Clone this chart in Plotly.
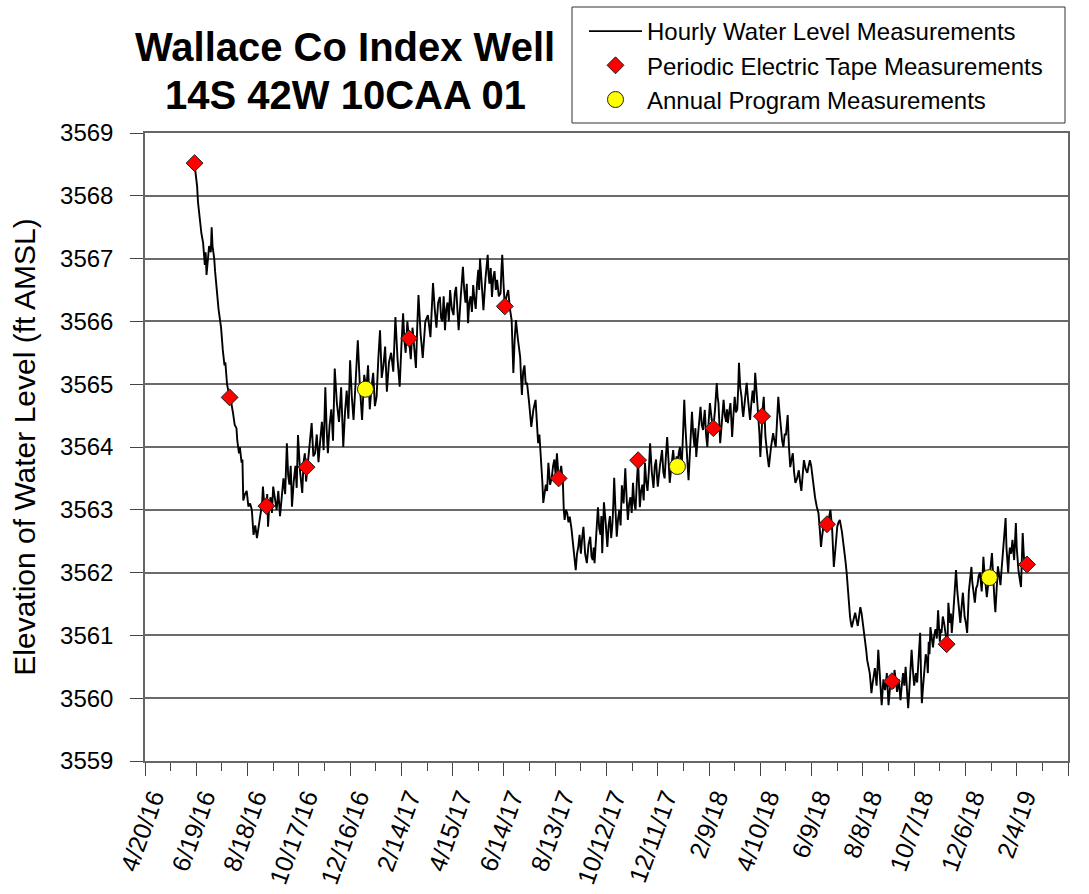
import pandas as pd
import plotly.graph_objects as go

# Hourly transducer record as (days after 4/20/16, level)
START = pd.Timestamp("2016-04-20")
hourly_day = [
    # drawdown, summer 2016
    58, 60, 61, 62, 63, 64, 66, 68, 70, 71, 72, 74, 75, 77, 78, 79, 81, 82, 84, 86,
    88, 89, 91, 93, 94, 96, 99, 101, 103, 105, 107, 108, 110, 111, 113, 114, 115, 117, 119, 121,
    123, 125, 127, 128, 129, 131, 132, 134, 135, 137, 138, 140,
    # recovery 2016-17
    142, 143, 144, 145.5, 147, 148.5, 150, 152, 154, 156, 158, 160, 162, 164, 166, 167.5, 169, 170.5,
    172, 174, 176, 177.5, 179, 181.5, 184, 185.5, 187, 188.5, 190, 192.5, 195, 197, 199, 201, 203, 205,
    207, 209, 211, 212.5, 214, 216, 218, 220, 222, 224.5, 227, 229.5, 232, 234, 236, 238, 240, 242,
    244, 246.5, 249, 251.5, 254, 256.5, 259, 261, 263, 265, 267, 269, 271, 273, 275, 277, 279, 281,
    283, 285.5, 288, 290.5, 293, 295.5, 298, 300, 302, 303.5, 305, 307, 309, 311, 313, 315, 317, 318.5,
    320, 322.5, 325, 328, 331, 334, 337, 339, 341, 343, 345, 346.5, 348, 349.5, 351, 352.5, 354, 355.5,
    357, 359, 361, 362.5, 364, 365.5, 367, 369.5, 372, 373.5, 375, 376.5, 378, 379.5, 381, 382.5, 384, 385.5,
    387, 388.5, 390, 391, 392, 394, 396, 398.5, 401, 402, 403, 404.5, 406, 407.5, 409, 410.5, 412, 414,
    416, 417, 418, 419.5,
    # drawdown, summer 2017
    421, 423, 425, 427, 429, 430, 431, 432.5, 434, 436.5, 439, 440, 441, 442.5, 444, 445.5, 447, 449.5,
    452, 454.5, 457, 458.5, 460, 461.5, 463, 464, 465, 466, 467.5, 469, 470.5, 472, 474, 476, 477.5, 479,
    480.5, 482, 483.5, 485, 487, 489, 490, 491, 492.5, 494, 495.5, 497, 499, 501, 502.5,
    # recovery 2017-18
    504, 505.5, 507, 508.5, 510, 511.5, 513, 515, 517, 519, 521, 522.5, 524, 525, 526, 528, 530, 531.5,
    533, 534, 535, 536, 537, 539, 541, 542.5, 544, 545.5, 547, 548, 549, 550.5, 552, 553.5, 555, 556.5,
    558, 560, 562, 563.5, 565, 566.5, 568, 569.5, 571, 572.5, 574, 575.5, 577, 578, 579, 580.5, 582, 583.5,
    585, 586.5, 588, 589.5, 591, 593, 595, 596.5, 598, 599, 600, 602.5, 605, 606.5, 608, 609.5, 611, 612.5,
    614, 616, 618, 619.5, 621, 622, 623, 624.5, 626, 627, 628, 629.5, 631, 632, 633, 634.5, 636, 638,
    640, 641.5, 643, 644, 645, 646.5, 648, 649, 650, 651.5, 653, 654, 655, 656.5, 658, 659.5, 661, 663,
    665, 667, 669, 670, 671, 672, 673, 675, 677, 678.5, 680, 681, 682, 683.5, 685, 686, 687, 688.5,
    690, 691.5, 693, 694, 695, 696.5, 698, 699, 700, 702, 704, 706, 708, 709.5, 711, 712.5, 714, 716,
    718, 719, 720, 721,
    # drawdown, summer 2018
    722, 723, 724, 725, 726, 728, 730, 732.5, 735, 736.5, 738, 739.5, 741, 742.5, 744, 745.5, 747, 748.5,
    750, 751, 752, 753.5, 755, 756.5, 758, 759.5, 761, 763, 765, 766.5, 768, 769.5, 771, 773, 775, 776.5,
    778, 779.5, 781, 782.5, 784, 786, 788, 789.5, 791, 792, 793, 794.5, 796, 798, 800, 802, 804, 806,
    808, 810, 811.5, 813, 815.5, 818, 819.5, 821, 822, 823, 824, 825, 826, 827, 829, 831, 832.5, 834,
    835.5, 837, 838.5, 840, 841.5, 843, 844, 845, 846.5, 848, 849, 850, 851, 852, 853, 854, 855, 856,
    857, 858, 859, 860, 861, 862, 863, 864, 865, 866, 867, 868, 869,
    # recovery 2018-19
    870, 871, 872, 873, 874, 875.5, 877, 878.5, 880, 882, 884, 885.5, 887, 888.5, 890, 891.5, 893, 894,
    895, 896, 897, 898.5, 900, 901, 902, 903.5, 905, 906, 907, 908, 909, 910.5, 912, 913.5, 915, 916,
    917, 918, 919, 920.5, 922, 923.5, 925, 926.5, 928, 929, 930, 931, 932, 933.5, 935, 937, 939, 940,
    941, 942, 943, 944, 945.5, 947, 948, 949, 950.5, 952, 953, 954, 955.5, 957, 958, 959, 960.5, 962,
    963, 964, 965.5, 967, 968, 969, 970, 971, 972.5, 974, 975.5, 977, 978, 979, 980, 981, 982, 983,
    984, 985, 986.5, 988, 989.5, 991, 992, 993, 994, 995, 996, 997, 998, 999, 1000, 1001, 1002, 1003,
    1004, 1005, 1006, 1007, 1008, 1009, 1010, 1011, 1012, 1013.5, 1015, 1016, 1017, 1018, 1019, 1020, 1021, 1022,
    1023.5, 1025, 1026, 1027, 1028, 1029,
]
hourly_level = [
    # drawdown, summer 2016
    3568.50, 3568.30, 3568.15, 3567.90, 3567.75, 3567.60, 3567.40, 3567.25, 3566.90, 3567.10,
    3566.74, 3567.05, 3567.20, 3567.10, 3567.50, 3567.20, 3567.00, 3566.80, 3566.45, 3566.20,
    3566.00, 3565.90, 3565.55, 3565.30, 3565.35, 3565.00, 3564.79, 3564.70, 3564.54, 3564.35,
    3564.30, 3564.10, 3563.90, 3564.00, 3563.75, 3563.80, 3563.15, 3563.25, 3563.30, 3563.05,
    3563.10, 3563.00, 3562.60, 3562.70, 3562.75, 3562.55, 3562.65, 3562.80, 3562.90, 3563.10,
    3563.37, 3563.00,
    # recovery 2016-17
    3563.06, 3563.25, 3562.73, 3563.10, 3563.20, 3562.95, 3563.37, 3563.15, 3563.00, 3563.30,
    3562.90, 3563.20, 3563.50, 3563.25, 3564.06, 3563.55, 3563.40, 3563.70, 3563.05, 3563.45,
    3563.70, 3563.35, 3564.19, 3563.60, 3563.27, 3563.75, 3563.90, 3563.45, 3563.68, 3564.05,
    3564.38, 3563.85, 3563.90, 3564.20, 3563.76, 3564.10, 3564.40, 3563.95, 3564.95, 3564.30,
    3563.90, 3564.35, 3564.60, 3564.10, 3565.25, 3564.70, 3564.40, 3564.95, 3564.00, 3564.55,
    3564.90, 3564.45, 3565.38, 3564.80, 3564.43, 3565.05, 3565.70, 3564.95, 3564.43, 3565.15,
    3564.92, 3565.30, 3564.60, 3564.95, 3565.18, 3564.65, 3564.80, 3565.40, 3565.86, 3565.10,
    3565.30, 3565.60, 3564.88, 3565.35, 3565.50, 3565.20, 3566.07, 3565.40, 3564.96, 3565.60,
    3566.13, 3565.70, 3565.50, 3566.00, 3565.73, 3565.40, 3565.90, 3565.60, 3565.26, 3565.90,
    3566.42, 3565.80, 3565.42, 3566.00, 3566.10, 3565.75, 3566.61, 3566.20, 3565.90, 3566.30,
    3566.39, 3566.05, 3566.00, 3566.40, 3565.86, 3566.20, 3566.30, 3566.00, 3566.50, 3566.20,
    3566.10, 3566.45, 3566.55, 3566.20, 3565.86, 3566.40, 3566.87, 3566.50, 3566.30, 3566.60,
    3565.97, 3566.30, 3566.40, 3566.15, 3566.58, 3566.35, 3566.20, 3566.60, 3566.82, 3566.50,
    3567.00, 3566.60, 3566.18, 3566.70, 3567.06, 3566.75, 3566.60, 3566.85, 3566.39, 3566.70,
    3566.80, 3566.50, 3566.66, 3566.40, 3566.45, 3566.80, 3567.06, 3566.60,
    # drawdown, summer 2017
    3566.24, 3566.40, 3566.50, 3566.20, 3566.02, 3565.60, 3565.18, 3565.70, 3566.02, 3565.70,
    3565.43, 3565.10, 3564.83, 3565.20, 3565.30, 3565.00, 3565.02, 3564.70, 3564.32, 3564.60,
    3564.75, 3564.40, 3564.06, 3564.20, 3563.90, 3563.60, 3563.43, 3563.11, 3563.30, 3563.40,
    3563.30, 3563.75, 3563.40, 3563.52, 3563.70, 3563.80, 3563.55, 3563.90, 3563.60, 3563.50,
    3563.70, 3563.43, 3563.00, 3562.84, 3563.00, 3562.95, 3562.80, 3562.89, 3562.70, 3562.47,
    3562.30,
    # recovery 2017-18
    3562.04, 3562.30, 3562.41, 3562.60, 3562.30, 3562.55, 3562.73, 3562.30, 3562.15, 3562.45,
    3562.57, 3562.25, 3562.20, 3562.40, 3562.15, 3562.60, 3563.04, 3562.70, 3562.60, 3562.90,
    3562.31, 3562.70, 3563.12, 3562.80, 3562.41, 3562.75, 3562.90, 3562.55, 3562.79, 3563.10,
    3563.51, 3563.00, 3562.57, 3562.85, 3563.00, 3562.75, 3563.39, 3563.10, 3563.66, 3563.20,
    3562.84, 3563.10, 3563.20, 3562.95, 3563.43, 3563.10, 3563.00, 3563.45, 3563.78, 3563.40,
    3563.04, 3563.30, 3563.40, 3563.15, 3563.75, 3563.45, 3563.30, 3563.60, 3564.06, 3563.60,
    3563.35, 3563.70, 3563.80, 3563.55, 3563.37, 3563.70, 3563.95, 3563.60, 3563.50, 3563.85,
    3564.16, 3563.80, 3563.43, 3563.70, 3563.95, 3563.70, 3563.60, 3563.85, 3563.69, 3563.90,
    3564.00, 3563.75, 3563.70, 3564.20, 3564.75, 3564.40, 3564.10, 3563.80, 3563.47, 3564.00,
    3564.56, 3564.20, 3564.00, 3564.30, 3563.84, 3564.10, 3564.30, 3564.50, 3564.64, 3564.35,
    3564.27, 3564.45, 3564.59, 3564.20, 3564.00, 3564.40, 3564.70, 3564.45, 3564.30, 3564.60,
    3565.02, 3564.80, 3564.70, 3564.40, 3564.06, 3564.40, 3564.75, 3564.50, 3564.40, 3564.60,
    3564.38, 3564.55, 3564.70, 3564.45, 3564.16, 3564.50, 3564.80, 3564.55, 3564.60, 3564.90,
    3565.34, 3564.95, 3564.80, 3564.60, 3564.48, 3564.75, 3565.02, 3564.70, 3564.43, 3564.70,
    3564.90, 3564.70, 3565.18, 3564.80, 3564.43, 3564.20, 3563.84, 3564.20,
    # drawdown, summer 2018
    3564.49, 3564.65, 3564.80, 3564.50, 3564.16, 3563.90, 3563.68, 3564.00, 3564.22, 3564.10,
    3564.00, 3564.40, 3564.80, 3564.55, 3564.30, 3564.10, 3564.00, 3564.20, 3564.20, 3564.35,
    3564.51, 3564.00, 3563.68, 3563.80, 3563.90, 3563.60, 3563.43, 3563.50, 3563.63, 3563.45,
    3563.30, 3563.55, 3563.79, 3563.65, 3563.59, 3563.70, 3563.79, 3563.70, 3563.50, 3563.35,
    3563.20, 3563.05, 3562.95, 3562.70, 3562.41, 3562.55, 3562.70, 3562.80, 3562.84, 3562.77,
    3562.85, 3563.00, 3562.70, 3562.09, 3562.40, 3562.73, 3562.80, 3562.84, 3562.65, 3562.41,
    3562.20, 3562.00, 3561.80, 3561.56, 3561.40, 3561.29, 3561.20, 3561.13, 3561.25, 3561.36,
    3561.25, 3561.15, 3561.30, 3561.45, 3561.35, 3561.20, 3561.05, 3560.90, 3560.75, 3560.61,
    3560.50, 3560.40, 3560.25, 3560.08, 3560.20, 3560.30, 3560.40, 3560.48, 3560.35, 3560.20,
    3560.45, 3560.77, 3560.55, 3560.30, 3560.10, 3559.89, 3560.10, 3560.30, 3560.20, 3560.13,
    3560.25, 3560.40, 3560.15,
    # recovery 2018-19
    3559.89, 3560.05, 3560.20, 3560.35, 3560.27, 3560.15, 3560.45, 3560.25, 3560.10, 3560.30,
    3559.97, 3560.20, 3560.40, 3560.20, 3560.50, 3560.15, 3559.84, 3560.05, 3560.30, 3560.55,
    3560.77, 3560.45, 3560.20, 3560.30, 3560.40, 3560.25, 3560.70, 3560.85, 3561.04, 3560.40,
    3559.92, 3560.20, 3560.40, 3560.70, 3560.61, 3560.40, 3560.90, 3560.70, 3561.13, 3560.95,
    3560.81, 3561.00, 3561.10, 3560.95, 3561.40, 3561.15, 3560.90, 3561.10, 3561.04, 3561.30,
    3561.20, 3561.00, 3560.86, 3561.52, 3561.30, 3561.20, 3561.35, 3561.04, 3561.30, 3561.60,
    3561.80, 3562.04, 3561.70, 3561.50, 3561.35, 3561.20, 3561.45, 3561.68, 3561.50, 3561.30,
    3561.20, 3561.04, 3561.35, 3561.70, 3561.90, 3562.09, 3561.85, 3561.70, 3561.60, 3561.52,
    3561.75, 3561.80, 3561.95, 3562.00, 3561.85, 3561.70, 3561.95, 3562.25, 3562.05, 3561.90,
    3561.75, 3561.61, 3561.80, 3561.92, 3562.10, 3562.31, 3562.00, 3561.80, 3561.55, 3561.37,
    3561.70, 3561.90, 3562.10, 3562.00, 3561.90, 3561.80, 3562.00, 3562.20, 3562.40, 3562.50,
    3562.70, 3562.87, 3562.40, 3562.20, 3562.00, 3562.25, 3562.40, 3562.30, 3562.52, 3562.35,
    3562.20, 3562.50, 3562.79, 3562.40, 3562.20, 3562.04, 3561.90, 3561.77, 3562.20, 3562.63,
    3562.35, 3562.13,
]

tape_dates = [
    "2016-06-17", "2016-07-28", "2016-09-09", "2016-10-26", "2017-02-23", "2017-06-15",
    "2017-08-17", "2017-11-18", "2018-02-14", "2018-04-12", "2018-06-27", "2018-09-11",
    "2018-11-14", "2019-02-16",
]
tape_level = [
    3568.52, 3564.79, 3563.06, 3563.68, 3565.73, 3566.24, 3563.50,
    3563.79, 3564.30, 3564.49, 3562.77, 3560.27, 3560.86, 3562.13,
]

annual_dates = ["2017-01-03", "2018-01-03", "2019-01-03"]
annual_level = [3564.92, 3563.69, 3561.92]

tick_labels = [
    "4/20/16", "6/19/16", "8/18/16", "10/17/16", "12/16/16", "2/14/17", "4/15/17",
    "6/14/17", "8/13/17", "10/12/17", "12/11/17", "2/9/18", "4/10/18", "6/9/18",
    "8/8/18", "10/7/18", "12/6/18", "2/4/19", "4/5/19",
]

title_lines = ["Wallace Co Index Well", "14S 42W 10CAA 01"]

FONT = "Liberation Sans, Arial, sans-serif"

hourly_time = START + pd.to_timedelta(hourly_day, unit="D")
tick_vals = pd.date_range(START, periods=len(tick_labels), freq="60D")
minor_vals = pd.date_range(START, tick_vals[-1], freq="30D")

fig = go.Figure()
fig.add_scatter(
    x=hourly_time,
    y=hourly_level,
    mode="lines",
    line=dict(color="black", width=1.9),
    name="Hourly Water Level Measurements",
)
fig.add_scatter(
    x=pd.to_datetime(tape_dates),
    y=tape_level,
    mode="markers",
    marker=dict(symbol="diamond", size=13, color="#ff0000", line=dict(color="#202020", width=1)),
    name="Periodic Electric Tape Measurements",
)
fig.add_scatter(
    x=pd.to_datetime(annual_dates),
    y=annual_level,
    mode="markers",
    marker=dict(symbol="circle", size=16, color="#ffff00", line=dict(color="#202020", width=1)),
    name="Annual Program Measurements",
)

W, H = 1089, 894
L, R, T, B = 145, 21, 133, 133
PW, PH = W - L - R, H - T - B


def px_x(x):
    return (x - L) / PW


def px_y(y):
    return (H - B - y) / PH


fig.update_layout(
    width=W,
    height=H,
    margin=dict(l=L, r=R, t=T, b=B, autoexpand=False),
    paper_bgcolor="white",
    plot_bgcolor="white",
    font=dict(family=FONT, color="black"),
    annotations=[
        dict(
            text=f"<b>{line}</b>", xref="paper", yref="paper",
            x=px_x(345), y=px_y(yc), xanchor="center", yanchor="middle",
            showarrow=False, font=dict(size=40, family=FONT, color="black"),
        )
        for line, yc in zip(title_lines, [47, 95])
    ],
    legend=dict(
        xref="container", yref="container",
        x=584 / W, y=1 - 9 / H, xanchor="left", yanchor="top",
        bgcolor="rgba(0,0,0,0)", borderwidth=0,
        font=dict(size=24, family=FONT),
        itemwidth=53,
        tracegroupgap=0,
    ),
    showlegend=True,
    # frame drawn round the legend
    shapes=[
        dict(
            type="rect", xref="paper", yref="paper",
            x0=px_x(572), x1=px_x(1065), y0=px_y(123), y1=px_y(7),
            line=dict(color="#333333", width=1), fillcolor="rgba(0,0,0,0)", layer="below",
        )
    ],
)
fig.update_xaxes(
    type="date",
    range=[START, tick_vals[-1]],
    automargin=False,
    tickmode="array",
    tickvals=tick_vals,
    ticktext=tick_labels,
    tickangle=-70,
    tickfont=dict(size=25, family=FONT),
    ticklabelshift=8,
    ticklabelstandoff=-3,
    ticks="outside", ticklen=13, tickwidth=1, tickcolor="#444444",
    minor=dict(tickmode="array", tickvals=minor_vals, ticks="outside", ticklen=8, tickcolor="#444444"),
    showgrid=False,
    showline=True, linecolor="#666666", linewidth=2, mirror=True,
    zeroline=False,
)
fig.update_yaxes(
    range=[3559, 3569],
    automargin=False,
    dtick=1,
    tickformat="d",
    tickfont=dict(size=24, family=FONT),
    ticks="outside", ticklen=13, tickwidth=1, tickcolor="#444444",
    ticklabelstandoff=12,
    showgrid=True, gridcolor="#6a6a6a", gridwidth=1.5,
    showline=True, linecolor="#666666", linewidth=1.5, mirror=True,
    zeroline=False,
    title=dict(text="Elevation of Water Level (ft AMSL)", font=dict(size=30, family=FONT), standoff=16),
)

# drop the default 8px body margin so the 1089x894 figure fills the window
fig.write_html(
    "out.html",
    config={"displayModeBar": False},
    post_script="document.body.style.margin='0px';",
)
